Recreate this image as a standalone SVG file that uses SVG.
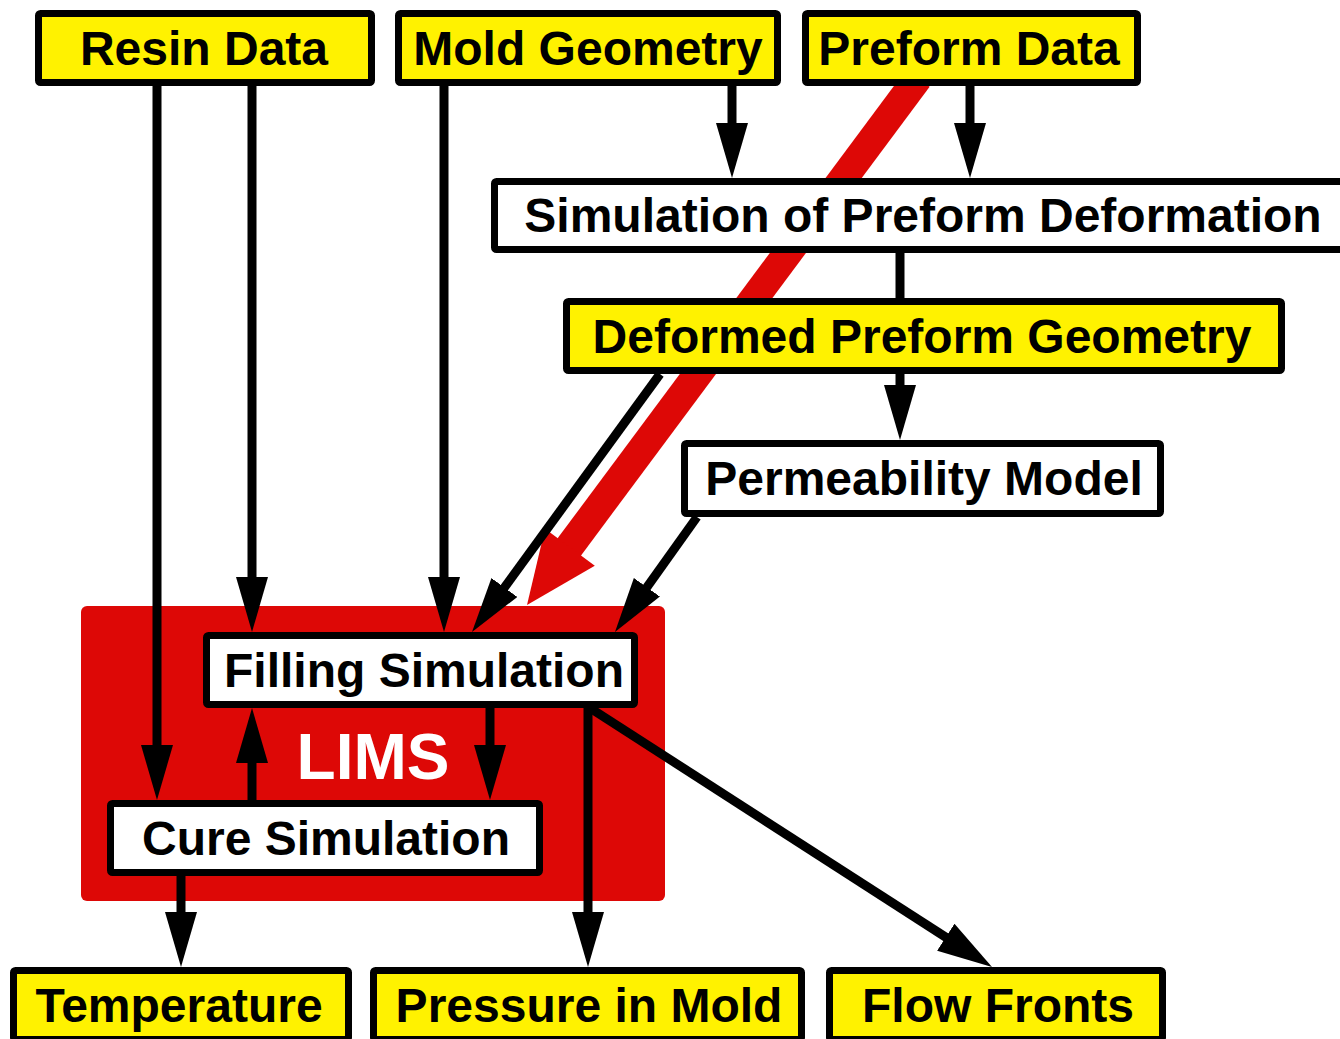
<svg xmlns="http://www.w3.org/2000/svg" width="1340" height="1039" viewBox="0 0 1340 1039">
<style>
.box{stroke:#000;stroke-width:7}
.y{fill:#fff200}
.w{fill:#fff}
.t{font-family:"Liberation Sans",Arial,sans-serif;font-weight:bold;font-size:48px;fill:#000;text-anchor:middle}
.c{stroke:#000;stroke-width:9;fill:none}
.a{marker-end:url(#ah)}
</style>
<defs>
<marker id="ah" markerUnits="userSpaceOnUse" markerWidth="56" markerHeight="34" refX="10" refY="16" orient="auto" viewBox="0 0 56 34">
<path d="M0,0 L55,16 L0,32 z" fill="#000"/>
</marker>
</defs>
<rect width="1340" height="1039" fill="#fff"/>
<g id="lims">
<rect x="81" y="606" width="584" height="295" rx="6" fill="#dd0806"/>
<text x="373" y="779" class="t" style="font-size:64px;fill:#fff">LIMS</text>
</g>
<g id="connectors">
<g id="red-arrow" fill="#dd0806">
<line x1="918" y1="78" x2="567" y2="550" stroke="#dd0806" stroke-width="29"/>
<polygon points="545,528.7 594.8,565.7 527,605"/>
</g>
<path class="c a" d="M157,86 V755"/>
<path class="c a" d="M252,86 V587"/>
<path class="c a" d="M444,86 V587"/>
<path class="c a" d="M732,86 V133"/>
<path class="c a" d="M970,86 V133"/>
<path class="c" d="M900,253 V298"/>
<path class="c a" d="M900,374 V395"/>
<path class="c a" d="M660,374 L498.5,595.6"/>
<path class="c a" d="M697,517 L641.1,595.4"/>
<path class="c a" d="M252,800 V753"/>
<path class="c a" d="M490,708 V755"/>
<path class="c a" d="M181,876 V922"/>
<path class="c a" d="M588,708 V922"/>
<path class="c a" d="M590,708 L954.2,942.6"/>
</g>
<g id="resin-data"><rect class="box y" x="38.5" y="13.5" width="333" height="69" rx="2"/><text class="t" x="204" y="65">Resin Data</text></g>
<g id="mold-geometry"><rect class="box y" x="398.5" y="13.5" width="379" height="69" rx="2"/><text class="t" x="588" y="65">Mold Geometry</text></g>
<g id="preform-data"><rect class="box y" x="805.5" y="13.5" width="332" height="69" rx="2"/><text class="t" x="969" y="65">Preform Data</text></g>
<g id="sim-preform-deformation"><rect class="box w" x="494.5" y="181.5" width="858" height="68" rx="2"/><text class="t" x="923" y="232">Simulation of Preform Deformation</text></g>
<g id="deformed-preform-geometry"><rect class="box y" x="566.5" y="301.5" width="715" height="69" rx="2"/><text class="t" x="922" y="353">Deformed Preform Geometry</text></g>
<g id="permeability-model"><rect class="box w" x="684.5" y="443.5" width="476" height="70" rx="2"/><text class="t" x="924" y="495">Permeability Model</text></g>
<g id="filling-simulation"><rect class="box w" x="206.5" y="635.5" width="428" height="69" rx="2"/><text class="t" x="424" y="687">Filling Simulation</text></g>
<g id="cure-simulation"><rect class="box w" x="110.5" y="803.5" width="429" height="69" rx="2"/><text class="t" x="326" y="855">Cure Simulation</text></g>
<g id="temperature"><rect class="box y" x="13.5" y="970.5" width="335" height="69" rx="2"/><text class="t" x="179" y="1022">Temperature</text></g>
<g id="pressure-in-mold"><rect class="box y" x="373.5" y="970.5" width="428" height="69" rx="2"/><text class="t" x="589" y="1022">Pressure in Mold</text></g>
<g id="flow-fronts"><rect class="box y" x="829.5" y="970.5" width="333" height="69" rx="2"/><text class="t" x="998" y="1022">Flow Fronts</text></g>
</svg>
